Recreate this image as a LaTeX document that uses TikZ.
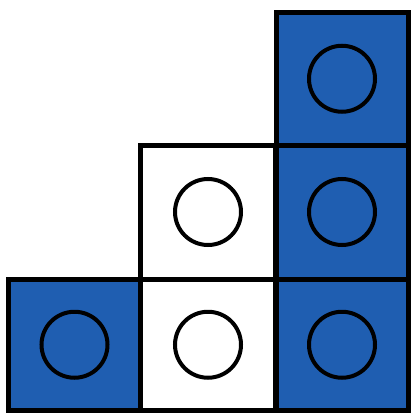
\documentclass[tikz,border=0pt]{standalone}
\definecolor{cellblue}{RGB}{31,94,177}
\begin{document}
\begin{tikzpicture}[x=1pt,y=-1pt,
  cell/.style={draw=black,line width=5pt,rectangle,inner sep=0pt,outer sep=0pt,minimum width=#1},
  bluecell/.style={fill=cellblue},
  whitecell/.style={fill=white},
  ring/.style={draw=black,line width=4pt,circle,inner sep=0pt,minimum size=66pt}]
\useasboundingbox (0,0) rectangle (411,415);
% cells: columns x 8.5-140.5, 140.5-275.5, 275.5-408.5 ; rows y 12.5-145, 145-279, 279-410.5
\node[cell=132pt,minimum height=132.5pt,bluecell] (a) at (342,78.75) {};
\node[cell=132pt,minimum height=134pt,bluecell] (b) at (342,212) {};
\node[cell=132pt,minimum height=131.5pt,bluecell] (c) at (342,344.75) {};
\node[cell=135pt,minimum height=134pt,whitecell] (d) at (208,212) {};
\node[cell=135pt,minimum height=131.5pt,whitecell] (e) at (208,344.75) {};
\node[cell=132pt,minimum height=131.5pt,bluecell] (f) at (74.5,344.75) {};
\node[ring] (ra) at (a.center) {};
\node[ring] (rb) at (b.center) {};
\node[ring] (rc) at (c.center) {};
\node[ring] (rd) at (d.center) {};
\node[ring] (re) at (e.center) {};
\node[ring] (rf) at (f.center) {};
\end{tikzpicture}
\end{document}
